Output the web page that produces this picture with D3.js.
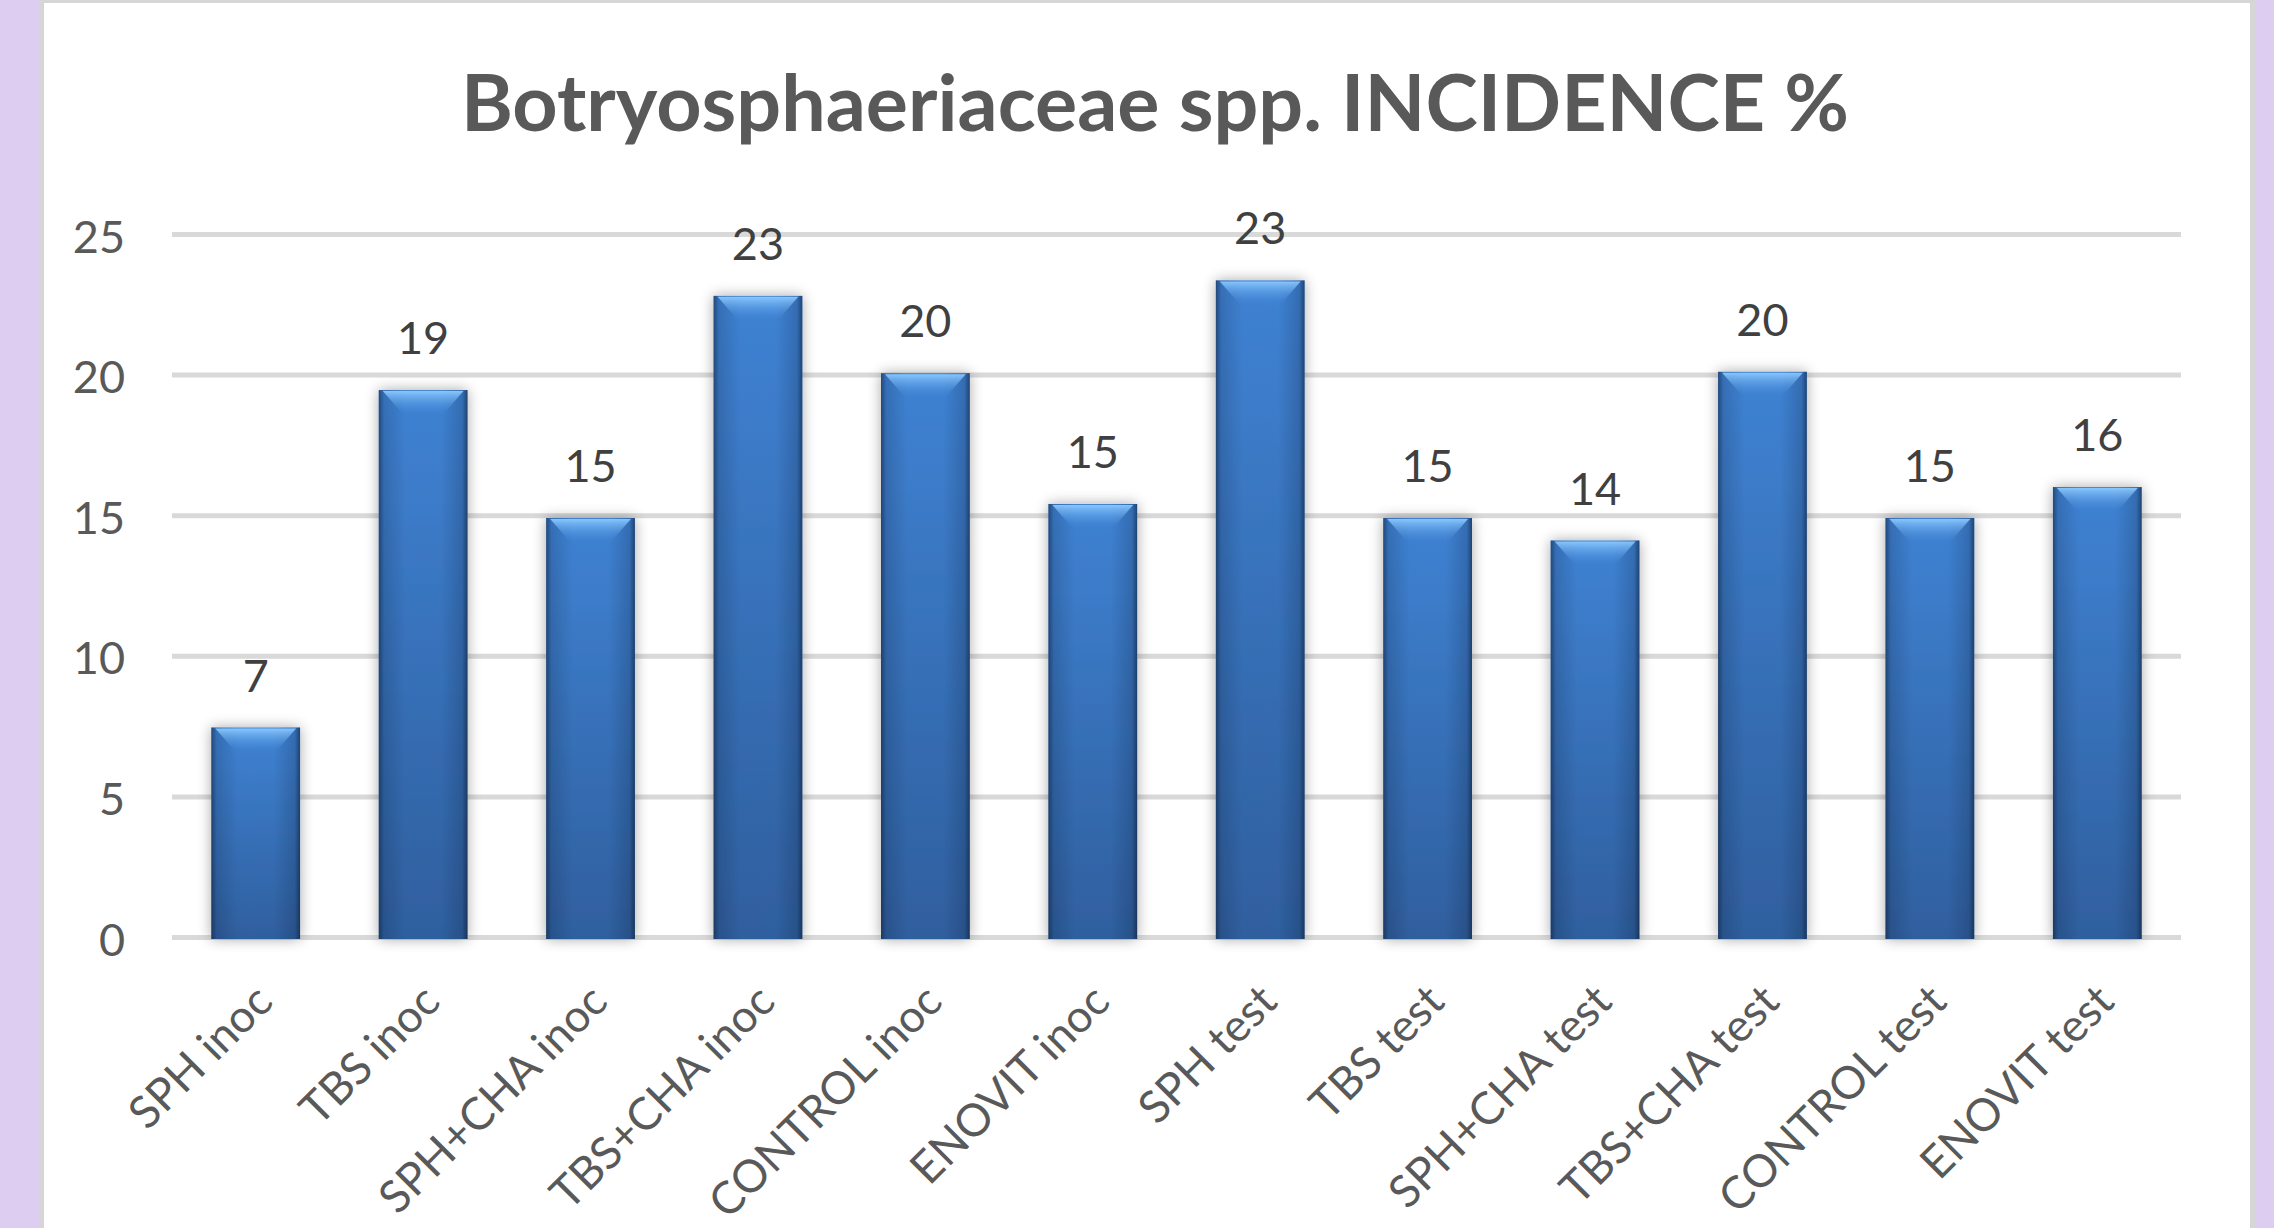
<!DOCTYPE html>
<html>
<head>
<meta charset="utf-8">
<script src="https://cdn.jsdelivr.net/npm/d3@7"></script>
<style>
  html, body { margin: 0; padding: 0; background: #ddcef1; }
  svg { display: block; }
</style>
</head>
<body>
<svg id="chart" width="2274" height="1228"></svg>
<script>
// ---- data ----
const categories = ["SPH inoc", "TBS inoc", "SPH+CHA inoc", "TBS+CHA inoc", "CONTROL inoc", "ENOVIT inoc",
                    "SPH test", "TBS test", "SPH+CHA test", "TBS+CHA test", "CONTROL test", "ENOVIT test"];
const incidence = [7.45, 19.45, 14.9, 22.8, 20.05, 15.4, 23.35, 14.9, 14.1, 20.1, 14.9, 16.0];
const yTicks = [0, 5, 10, 15, 20, 25];
const titleText = "Botryosphaeriaceae spp. INCIDENCE %";

// ---- layout ----
const W = 2274, H = 1228;
const svg = d3.select("#chart");
const FONT = "Lato, 'Open Sans', 'DejaVu Sans', sans-serif";

// background panel
svg.append("rect").attr("x", 0).attr("y", 0).attr("width", W).attr("height", H).attr("fill", "#ddcef1");
svg.append("rect").attr("x", 39).attr("y", 0).attr("width", 2256 - 39).attr("height", H).attr("fill", "#d6d6d6");
svg.append("rect").attr("x", 44).attr("y", 3).attr("width", 2250 - 44).attr("height", H - 3).attr("fill", "#ffffff");

const defs = svg.append("defs");
const vg = defs.append("linearGradient").attr("id", "barV").attr("x1", 0).attr("y1", 0).attr("x2", 0).attr("y2", 1);
vg.append("stop").attr("offset", "0%").attr("stop-color", "#3f82d3");
vg.append("stop").attr("offset", "100%").attr("stop-color", "#2f5f9e");
const hg = defs.append("linearGradient").attr("id", "barH").attr("x1", 0).attr("y1", 0).attr("x2", 1).attr("y2", 0);
hg.append("stop").attr("offset", "0%").attr("stop-color", "#0a1a33").attr("stop-opacity", 0.55);
hg.append("stop").attr("offset", "6%").attr("stop-color", "#0a1a33").attr("stop-opacity", 0.18);
hg.append("stop").attr("offset", "30%").attr("stop-color", "#0a1a33").attr("stop-opacity", 0.0);
hg.append("stop").attr("offset", "70%").attr("stop-color", "#0a1a33").attr("stop-opacity", 0.0);
hg.append("stop").attr("offset", "94%").attr("stop-color", "#0a1a33").attr("stop-opacity", 0.2);
hg.append("stop").attr("offset", "100%").attr("stop-color", "#0a1a33").attr("stop-opacity", 0.6);
const tg = defs.append("linearGradient").attr("id", "barTop").attr("x1", 0).attr("y1", 0).attr("x2", 0).attr("y2", 1);
tg.append("stop").attr("offset", "0%").attr("stop-color", "#8ccaff").attr("stop-opacity", 0.95);
tg.append("stop").attr("offset", "100%").attr("stop-color", "#4a90e0").attr("stop-opacity", 0.0);
const sh = defs.append("filter").attr("id", "shadow").attr("x", "-50%").attr("y", "-20%").attr("width", "200%").attr("height", "140%");
sh.append("feGaussianBlur").attr("in", "SourceAlpha").attr("stdDeviation", 7).attr("result", "blur");
sh.append("feComponentTransfer").attr("in", "blur").attr("result", "sb")
  .append("feFuncA").attr("type", "linear").attr("slope", 0.35);
const m = sh.append("feMerge");
m.append("feMergeNode").attr("in", "sb");
m.append("feMergeNode").attr("in", "SourceGraphic");

// scales
const x = d3.scaleBand().domain(categories).range([172, 2181]).paddingInner(0.47).paddingOuter(0.235);
const y = d3.scaleLinear().domain([0, 25]).range([937, 234]);

// title
svg.append("text")
  .attr("x", 1155).attr("y", 131)
  .attr("text-anchor", "middle")
  .attr("font-family", FONT).attr("font-weight", "bold")
  .attr("font-size", 79).attr("fill", "#595959")
  .text(titleText);

// gridlines
const yAxis = d3.axisLeft(y).tickValues(yTicks).tickSize(-(2181 - 172)).tickPadding(47);
const gy = svg.append("g").attr("transform", "translate(172,0)").call(yAxis);
gy.select(".domain").remove();
gy.selectAll(".tick line").attr("stroke", "#d9d9d9").attr("stroke-width", 5);
gy.selectAll(".tick text").attr("font-family", FONT).attr("font-size", 45).attr("fill", "#595959").attr("dy", "0.4em");

// bars
const bars = svg.append("g").selectAll("g.bar").data(categories.map((c, i) => ({ c, v: incidence[i] })))
  .join("g").attr("class", "bar");

bars.append("rect")
  .attr("x", d => x(d.c)).attr("y", d => y(d.v))
  .attr("width", x.bandwidth()).attr("height", d => y(0) - y(d.v) + 2)
  .attr("fill", "url(#barV)")
  .attr("filter", "url(#shadow)");
bars.append("rect")
  .attr("x", d => x(d.c)).attr("y", d => y(d.v))
  .attr("width", x.bandwidth()).attr("height", d => y(0) - y(d.v) + 2)
  .attr("fill", "url(#barH)");
bars.append("path")
  .attr("d", d => {
    const x0 = x(d.c), bw = x.bandwidth(), t = y(d.v);
    return `M${x0 + 4},${t + 1} L${x0 + bw - 4},${t + 1} L${x0 + bw - 24},${t + 24} L${x0 + 24},${t + 24} Z`;
  })
  .attr("fill", "url(#barTop)");

// value labels
svg.append("g").selectAll("text").data(categories.map((c, i) => ({ c, v: incidence[i] })))
  .join("text")
  .attr("x", d => x(d.c) + x.bandwidth() / 2)
  .attr("y", d => y(d.v) - 36)
  .attr("text-anchor", "middle")
  .attr("font-family", FONT).attr("font-size", 45).attr("fill", "#404040")
  .text(d => d3.format("d")(Math.round(d.v)));

// category labels
const xAxis = d3.axisBottom(x).tickSize(0).tickPadding(0);
const gx = svg.append("g").attr("transform", "translate(0,937)").call(xAxis);
gx.select(".domain").remove();
gx.selectAll(".tick text")
  .attr("font-family", FONT).attr("font-size", 45).attr("fill", "#595959")
  .attr("text-anchor", "end")
  .attr("dy", "0.35em")
  .attr("y", 0)
  .attr("transform", "translate(8,56) rotate(-45)");
</script>
</body>
</html>
